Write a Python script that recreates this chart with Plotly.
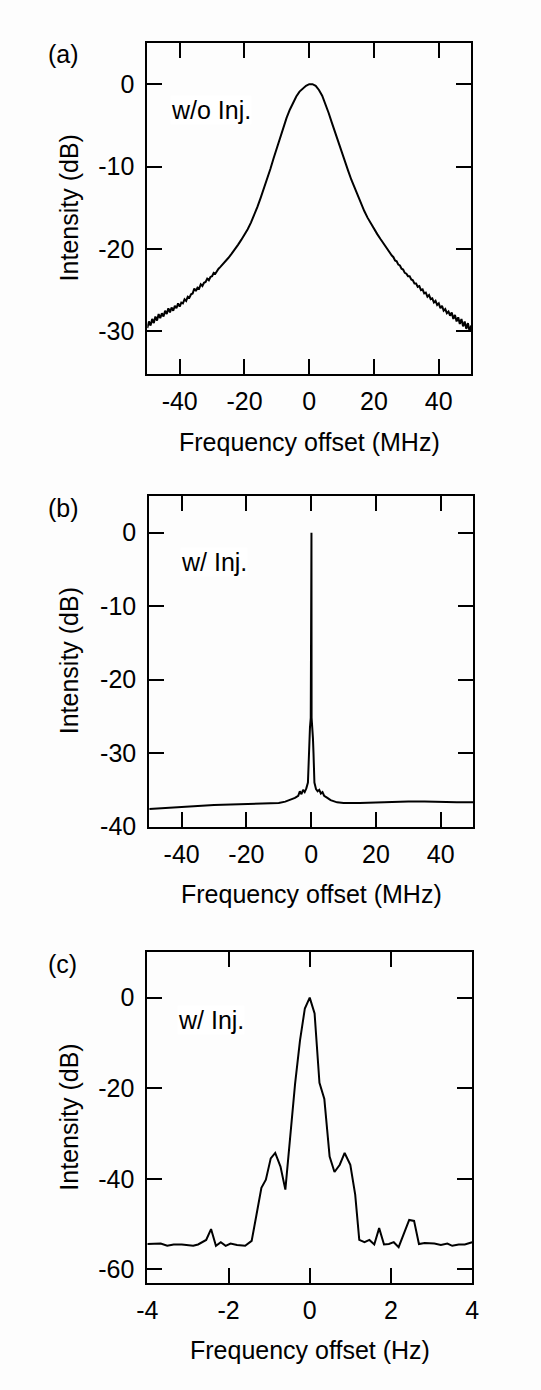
import plotly.graph_objects as go

W, H = 541, 1390
FONT = "Liberation Sans, Arial, Helvetica, sans-serif"
FS = 25

# ---- (a) free-running spectrum (MHz, dB) ----
freq_a = [-50.0, -49.5, -49.0, -48.5, -48.0, -47.5, -47.0, -46.5, -46.0, -45.5,
          -45.0, -44.5, -44.0, -43.5, -43.0, -42.5, -42.0, -41.5, -41.0, -40.5,
          -40.0, -39.5, -39.0, -38.5, -38.0, -37.5, -37.0, -36.5, -36.0, -35.5,
          -35.0, -34.5, -34.0, -33.5, -33.0, -32.5, -32.0, -31.5, -31.0, -30.5,
          -30.0, -29.5, -29.0, -28.5, -28.0, -27.5, -27.0, -26.5, -26.0, -25.5,
          -25.0,
          -24, -23, -22, -21, -20, -19, -18, -17, -16, -15, -14, -13, -12, -11,
          -10, -9, -8, -7, -6, -5, -4, -3, -2, -1, 0, 1, 2, 3, 4, 5, 6, 7, 8, 9,
          10, 11, 12, 13, 14, 15, 16, 17, 18, 19, 20, 21, 22, 23, 24,
          24.5, 25.0, 25.5, 26.0, 26.5, 27.0, 27.5, 28.0, 28.5, 29.0, 29.5, 30.0,
          30.5, 31.0, 31.5, 32.0, 32.5, 33.0, 33.5, 34.0, 34.5, 35.0, 35.5, 36.0,
          36.5, 37.0, 37.5, 38.0, 38.5, 39.0, 39.5, 40.0, 40.5, 41.0, 41.5, 42.0,
          42.5, 43.0, 43.5, 44.0, 44.5, 45.0, 45.5, 46.0, 46.5, 47.0, 47.5, 48.0,
          48.5, 49.0, 49.5, 50.0]
level_a = [-29.6, -28.8, -29.3, -28.5, -29.0, -28.2, -28.7, -27.9, -28.4, -27.8,
           -28.2, -27.5, -27.9, -27.2, -27.7, -27.1, -27.5, -26.9, -27.2, -26.6,
           -27.0, -26.5, -26.6, -26.1, -26.3, -25.8, -25.9, -25.5, -25.4, -24.8,
           -25.1, -24.7, -24.8, -24.3, -24.5, -24.1, -24.0, -23.6, -23.8, -23.4,
           -23.3, -22.9, -23.0, -22.6, -22.4, -22.2, -22.0, -21.7, -21.6, -21.3,
           -21.1,
           -20.6, -20.1, -19.5, -18.9, -18.3, -17.6, -16.8, -15.9, -14.9, -13.8,
           -12.7, -11.5, -10.3, -9.0, -7.7, -6.4, -5.2, -4.1, -3.1, -2.2, -1.5,
           -0.9, -0.5, -0.2, 0.0, 0.0, -0.2, -0.7, -1.4, -2.4, -3.5, -4.7, -5.9,
           -7.1, -8.3, -9.4, -10.5, -11.6, -12.6, -13.6, -14.5, -15.4, -16.2,
           -16.9, -17.6, -18.2, -18.8, -19.4, -19.9,
           -20.3, -20.5, -20.8, -21.0, -21.4, -21.5, -21.9, -22.0, -22.4, -22.5,
           -22.9, -23.0, -23.3, -23.3, -23.7, -23.8, -24.2, -24.2, -24.6, -24.5,
           -25.0, -24.9, -25.4, -25.3, -25.8, -25.6, -26.1, -26.0, -26.5, -26.3,
           -26.8, -26.6, -27.2, -26.9, -27.5, -27.3, -27.8, -27.6, -28.1, -27.7,
           -28.5, -28.0, -28.8, -28.3, -29.1, -28.5, -29.4, -28.8, -29.7, -29.0,
           -30.0, -29.3]

# ---- (b) injection-locked spectrum (MHz, dB) ----
freq_b = [-50, -45, -40, -35, -30, -25, -20, -15, -10, -8, -6, -5, -4, -3.5, -3,
          -2.5, -2, -1.5, -1.0, -0.85, -0.72, -0.55, -0.37, -0.13, -0.09,
          0.09, 0.13, 0.37, 0.55, 0.72, 0.85, 1.0, 1.5, 2, 2.5, 3, 3.5, 4, 5, 6,
          8, 10, 15, 20, 25, 30, 35, 40, 45, 50]
level_b = [-37.6, -37.5, -37.4, -37.2, -37.05, -37.0, -37.0, -36.9, -36.8, -36.6,
           -36.3, -36.1, -35.8, -35.2, -35.6, -35.0, -35.3, -34.8, -34.0, -32.0,
           -30.0, -28.0, -26.5, -25.2, 0.0,
           0.0, -25.2, -26.5, -28.0, -30.0, -32.0, -34.0, -34.9, -35.2, -35.0,
           -35.5, -35.3, -35.8, -36.1, -36.4, -36.7, -36.8, -36.8, -36.7, -36.7,
           -36.6, -36.6, -36.7, -36.7, -36.7]

# ---- (c) injection-locked, fine scan (Hz, dB) ----
freq_c = [-4.0, -3.86, -3.67, -3.51, -3.35, -3.15, -2.99, -2.87, -2.75, -2.55,
          -2.43, -2.31, -2.19, -2.07, -1.95, -1.79, -1.59, -1.43, -1.31, -1.19,
          -1.08, -0.96, -0.85, -0.72, -0.60, -0.48, -0.36, -0.24, -0.12, 0.0,
          0.12, 0.24, 0.36, 0.49, 0.61, 0.74, 0.86, 1.0, 1.12, 1.22, 1.35, 1.47,
          1.59, 1.71, 1.83, 1.95, 2.07, 2.19, 2.33, 2.45, 2.57, 2.69, 2.83, 3.07,
          3.23, 3.39, 3.51, 3.67, 3.82, 4.0]
level_c = [-54.4, -54.4, -54.3, -54.8, -54.5, -54.5, -54.6, -54.8, -54.5, -53.5,
           -51.1, -54.8, -54.0, -54.8, -54.3, -54.6, -54.8, -53.7, -47.9, -42.0,
           -40.2, -35.5, -34.3, -37.3, -42.4, -31.0, -19.0, -9.5, -2.4, 0.0,
           -3.5, -18.8, -22.4, -35.1, -38.5, -36.9, -34.3, -36.9, -43.5, -53.5,
           -54.0, -53.5, -54.5, -50.9, -54.5, -54.4, -54.0, -55.1, -52.0, -49.1,
           -49.3, -54.4, -54.2, -54.3, -54.6, -54.3, -54.8, -54.5, -54.5, -54.0]

# tick values and labels (hyphen-minus as printed)
xt_mhz = [-40, -20, 0, 20, 40]
xt_hz = [-4, -2, 0, 2, 4]
yt_a = [0, -10, -20, -30]
yt_b = [0, -10, -20, -30, -40]
yt_c = [0, -20, -40, -60]


def lab(v):
    return [str(t) for t in v]


def fx(p):
    return p / W


def fy(p):
    return 1 - p / H


# plot frames in pixels: (left, right, top, bottom)
boxes = {
    "a": (141, 476, 43, 378),
    "b": (143, 478, 501, 835),
    "c": (141, 477, 962, 1296),
}

fig = go.Figure()
line = dict(color="black", width=2)
fig.add_trace(go.Scatter(x=freq_a, y=level_a, mode="lines", line=line,
                         xaxis="x", yaxis="y", showlegend=False))
fig.add_trace(go.Scatter(x=freq_b, y=level_b, mode="lines", line=line,
                         xaxis="x2", yaxis="y2", showlegend=False))
fig.add_trace(go.Scatter(x=freq_c, y=level_c, mode="lines", line=line,
                         xaxis="x3", yaxis="y3", showlegend=False))

axis_common = dict(
    showline=True, linecolor="black", linewidth=2, mirror="allticks",
    ticks="inside", ticklen=15, tickwidth=2, tickcolor="black",
    showgrid=False, zeroline=False, fixedrange=True,
    tickfont=dict(family=FONT, size=FS, color="black"),
)


def xaxis(box, rng, tv, anchor):
    l, r, t, b = box
    return dict(axis_common, domain=[fx(l), fx(r)], range=rng, anchor=anchor,
                tickvals=tv, ticktext=lab(tv), ticklabelstandoff=4)


def yaxis(box, rng, tv, anchor):
    l, r, t, b = box
    return dict(axis_common, domain=[fy(b), fy(t)], range=rng, anchor=anchor,
                tickvals=tv, ticktext=lab(tv), ticklabelstandoff=6)


fig.update_layout(
    width=W, height=H,
    margin=dict(l=0, r=0, t=0, b=0),
    paper_bgcolor="#fdfdfd", plot_bgcolor="#fdfdfd",
    font=dict(family=FONT, size=FS, color="black"),
    xaxis=xaxis(boxes["a"], [-50, 50], xt_mhz, "y"),
    yaxis=yaxis(boxes["a"], [-35.2, 5.05], yt_a, "x"),
    xaxis2=xaxis(boxes["b"], [-50, 50], xt_mhz, "y2"),
    yaxis2=yaxis(boxes["b"], [-40, 5], yt_b, "x2"),
    xaxis3=xaxis(boxes["c"], [-4, 4], xt_hz, "y3"),
    yaxis3=yaxis(boxes["c"], [-63, 10], yt_c, "x3"),
)

annotations = []


def text(s, x, y, **kw):
    a = dict(text=s, x=fx(x), y=fy(y), xref="paper", yref="paper",
             showarrow=False, font=dict(family=FONT, size=FS, color="black"))
    a.update(kw)
    annotations.append(a)


# panel letters
text("(a)", 36, 55, xanchor="left", yanchor="middle")
text("(b)", 36, 513, xanchor="left", yanchor="middle")
text("(c)", 36, 974, xanchor="left", yanchor="middle")

# in-plot labels
text("w/o Inj.", 207, 111, xanchor="center", yanchor="middle", bgcolor="white", borderpad=0)
text("w/ Inj.", 210, 568, xanchor="center", yanchor="middle", bgcolor="white", borderpad=0)
text("w/ Inj.", 207, 1030, xanchor="center", yanchor="middle", bgcolor="white", borderpad=0)

# axis titles
for key, xt in (("a", "Frequency offset (MHz)"), ("b", "Frequency offset (MHz)"),
                ("c", "Frequency offset (Hz)")):
    l, r, t, b = boxes[key]
    text(xt, (l + r) / 2, b + 68, xanchor="center", yanchor="middle")
    text("Intensity (dB)", 60, (t + b) / 2, xanchor="center", yanchor="middle",
         textangle=-90)

fig.update_layout(annotations=annotations)
fig.write_html("out.html")
